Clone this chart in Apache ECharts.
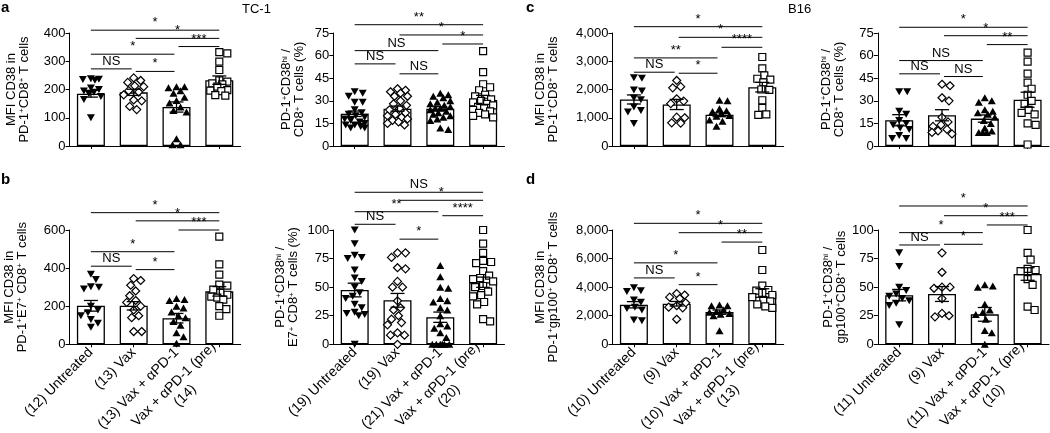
<!DOCTYPE html>
<html><head><meta charset="utf-8">
<script src="https://cdn.jsdelivr.net/npm/echarts@6/dist/echarts.min.js"></script>
<style>html,body{margin:0;padding:0;background:#fff}#c{width:1050px;height:433px}</style>
</head><body><div id="c"></div><script>
// ================= DATA =================
const groupNames = ['Untreated', 'Vax', 'Vax + αPD-1', 'Vax + αPD-1 (pre)'];
const bLeftLabels = ['(12) Untreated', '(13) Vax', '(13) Vax + αPD-1', 'Vax + αPD-1 (pre)\n(14)'];
const bRightLabels = ['(19) Untreated', '(19) Vax', '(21) Vax + αPD-1', 'Vax + αPD-1 (pre)\n(20)'];
const dLeftLabels = ['(10) Untreated', '(9) Vax', '(10) Vax + αPD-1', 'Vax + αPD-1 (pre)\n(13)'];
const dRightLabels = ['(11) Untreated', '(9) Vax', '(11) Vax + αPD-1', 'Vax + αPD-1 (pre)\n(10)'];

const mfiTicksA = [0, 100, 200, 300, 400];
const pctTicks75 = [0, 15, 30, 45, 60, 75];
const mfiTicksC = [0, 1000, 2000, 3000, 4000];
const mfiTicksB = [0, 200, 400, 600];
const pctTicks100 = [0, 25, 50, 75, 100];
const mfiTicksD = [0, 2000, 4000, 6000, 8000];

// a: TC-1, MFI CD38 in PD-1+CD8+ T cells
const aLeftMeans = [185, 190, 138, 233];
const aLeftSems = [12, 11, 18, 15];
const aLeftPoints = [
  [238, 236, 235, 233, 205, 200, 195, 190, 185, 175, 165, 100],
  [241, 232, 225, 213, 210, 196, 191, 181, 163, 160, 140, 129],
  [210, 210, 206, 196, 187, 173, 161, 152, 138, 126, 120, 26, 4, 4],
  [332, 328, 299, 269, 232, 228, 222, 218, 210, 198, 196, 194, 180, 178]
];
const aLeftSig = [[0, 3, 410, '*'], [1, 3, 381, '*'], [2, 3, 352, '***'], [0, 2, 325, '*'], [0, 1, 273, 'NS'], [1, 2, 264, '*']];

// a: TC-1, PD-1+CD38hi / CD8+ T cells (%)
const aRightMeans = [21.4, 24.8, 24.8, 30.6];
const aRightSems = [1.8, 1.7, 1.3, 3];
const aRightPoints = [
  [36, 35, 33, 29, 29, 24, 22, 21, 20, 19, 18, 17, 16, 15, 14, 14, 13, 12, 12],
  [38, 37, 36, 35, 33, 33, 30, 28, 27, 25, 24, 22, 21, 20, 19, 18, 17, 16, 15, 14],
  [35, 34, 33, 32, 30, 29, 28, 27, 26, 25, 25, 24, 23, 22, 21, 20, 19, 18, 17, 12, 11],
  [63, 49, 41, 39, 37, 34, 33, 31, 30, 29, 28, 27, 26, 25, 24, 23, 22, 21, 20, 19]
];
const aRightSig = [[0, 3, 80.5, '**'], [1, 3, 73.7, '*'], [2, 3, 67.7, '*'], [0, 2, 63.3, 'NS'], [0, 1, 54.5, 'NS'], [1, 2, 47.9, 'NS']];

// c: B16, MFI CD38 in PD-1+CD8+ T cells
const cLeftMeans = [1647, 1470, 1106, 2082];
const cLeftSems = [160, 180, 70, 170];
const cLeftPoints = [
  [2420, 2400, 1980, 1950, 1700, 1640, 1380, 1260, 1200, 800],
  [2320, 2100, 2060, 1670, 1590, 1500, 1020, 1000, 820, 810],
  [1620, 1600, 1320, 1250, 1220, 1150, 1080, 1050, 920, 880, 700],
  [3150, 2750, 2500, 2380, 2350, 2250, 2000, 1990, 1620, 1350, 1120, 1100]
];
const cLeftSig = [[0, 3, 4224, '*'], [1, 3, 3847, '*'], [2, 3, 3494, '****'], [0, 2, 3118, '**'], [0, 1, 2612, 'NS'], [1, 2, 2576, '*']];

// c: B16, PD-1+CD38hi / CD8+ T cells (%)
const cRightMeans = [17.1, 20.4, 18.2, 30.7];
const cRightSems = [3.7, 3.7, 2.4, 5];
const cRightPoints = [
  [36, 36, 23, 21, 17, 15, 14, 12, 11, 7, 5, 5],
  [41, 40, 32, 30, 19, 16, 14, 13, 11, 10, 9, 8],
  [32, 30, 29, 24, 23, 22, 21, 19, 17, 15, 12, 10, 9, 9, 9],
  [62, 56, 48, 42, 38, 34, 30, 28, 24, 22, 21, 15, 14, 1]
];
const cRightSig = [[0, 3, 78.8, '*'], [1, 3, 73.2, '*'], [2, 3, 67.3, '**'], [0, 2, 56.7, 'NS'], [0, 1, 47.9, 'NS'], [1, 2, 46.1, 'NS']];

// b: TC-1, MFI CD38 in PD-1+E7+ CD8+ T cells
const bLeftMeans = [202, 202, 137, 278];
const bLeftSems = [28, 22, 25, 25];
const bLeftPoints = [
  [368, 340, 302, 300, 290, 200, 180, 165, 150, 130, 110, 90],
  [345, 335, 310, 280, 255, 230, 220, 200, 180, 150, 140, 67, 67],
  [240, 235, 230, 200, 190, 170, 150, 140, 120, 100, 60, 40, 5],
  [565, 420, 366, 313, 308, 260, 287, 250, 270, 245, 235, 200, 185, 150]
];
const bLeftSig = [[0, 3, 691, '*'], [1, 3, 648, '*'], [2, 3, 600, '***'], [0, 2, 486, '*'], [0, 1, 410, 'NS'], [1, 2, 392, '*']];

// b: TC-1, PD-1+CD38hi / E7+ CD8+ T cells (%)
const bRightMeans = [47.5, 38.5, 23.7, 54.3];
const bRightSems = [6, 6, 4.5, 4.5];
const bRightPoints = [
  [100, 88, 78, 76, 75, 65, 58, 55, 50, 45, 42, 40, 35, 32, 28, 27, 26, 25, 0],
  [80, 80, 76, 67, 66, 55, 50, 50, 38, 32, 30, 25, 22, 19, 17, 10, 8, 8, 0],
  [69, 59, 50, 49, 40, 38, 37, 32, 30, 25, 18, 16, 14, 10, 6, 0, 0, 0, 0, 0, 0],
  [100, 88, 80, 73, 72, 71, 64, 60, 58, 57, 55, 51, 50, 46, 43, 42, 37, 35, 22, 20]
];
const bRightSig = [[0, 3, 133, 'NS'], [1, 3, 126, '*'], [0, 2, 116, '**'], [2, 3, 112.5, '****'], [0, 1, 105, 'NS'], [1, 2, 92, '*']];

// d: B16, MFI CD38 in PD-1+gp100+ CD8+ T cells
const dLeftMeans = [2768, 2838, 2252, 3589];
const dLeftSems = [220, 160, 150, 300];
const dLeftPoints = [
  [3950, 3750, 3700, 3100, 2950, 2600, 2500, 2400, 1700, 1650],
  [3550, 3450, 3300, 3200, 2900, 2700, 2600, 2550, 1750],
  [2750, 2700, 2700, 2400, 2300, 2250, 2150, 2100, 2000, 950],
  [6600, 5200, 4100, 3800, 3750, 3600, 3450, 3300, 3100, 3000, 2800, 2650, 2550]
];
const dLeftSig = [[0, 3, 8468, '*'], [1, 3, 7811, '*'], [2, 3, 7155, '**'], [0, 2, 5700, '*'], [0, 1, 4645, 'NS'], [1, 2, 4175, '*']];

// d: B16, PD-1+CD38hi / gp100+CD8+ T cells
const dRightMeans = [43, 44, 26.2, 61.5];
const dRightSems = [5, 6.5, 6, 5.5];
const dRightPoints = [
  [80, 68, 50, 47, 44, 42, 40, 38, 36, 34, 17],
  [80, 63, 50, 50, 49, 40, 27, 25, 24],
  [52, 51, 50, 35, 30, 28, 26, 22, 12, 10, 0],
  [100, 80, 74, 66, 65, 64, 57, 52, 33, 30]
];
const dRightSig = [[0, 3, 121, '*'], [1, 3, 112.5, '*'], [2, 3, 104.4, '***'], [0, 2, 97.7, '*'], [0, 1, 86.9, 'NS'], [1, 2, 87.5, '*']];

// ================= LAYOUT / STYLE =================
const FONT = 'Liberation Sans, Arial, Helvetica, sans-serif';
const COL_LEFT = [69.5, 333.3, 612.5, 877.8];
const COL_W = 171.2;
const ROW_TOP = [33, 230];
const ROW_H = [113, 114.3];
const XFS = 14; // category label font size

const SUP = {fontSize: 8, verticalAlign: 'top', lineHeight: 7, fontFamily: FONT, color: '#000'};
const NRM = {fontSize: 13, lineHeight: 13, fontFamily: FONT, color: '#000'};
const nameMfi = (mid) => '{n|MFI CD38 in}\n' + mid;
const namePct = (second) => '{n|PD-1}{s|+}{n|CD38}{s|hi}{n| /}\n' + second;

const panels = [
  {col: 0, row: 0, ticks: mfiTicksA, means: aLeftMeans, sems: aLeftSems, pts: aLeftPoints, sig: aLeftSig, labels: null,
   name: nameMfi('{n|PD-1}{s|+}{n|CD8}{s|+}{n| T cells}'), gap: 39},
  {col: 1, row: 0, ticks: pctTicks75, means: aRightMeans, sems: aRightSems, pts: aRightPoints, sig: aRightSig, labels: null,
   name: namePct('{n|CD8}{s|+}{n| T cells (%)}'), gap: 27},
  {col: 2, row: 0, ticks: mfiTicksC, means: cLeftMeans, sems: cLeftSems, pts: cLeftPoints, sig: cLeftSig, labels: null,
   name: nameMfi('{n|PD-1}{s|+}{n|CD8}{s|+}{n| T cells}'), gap: 53},
  {col: 3, row: 0, ticks: pctTicks75, means: cRightMeans, sems: cRightSems, pts: cRightPoints, sig: cRightSig, labels: null,
   name: namePct('{n|CD8}{s|+}{n| T cells (%)}'), gap: 32},
  {col: 0, row: 1, ticks: mfiTicksB, means: bLeftMeans, sems: bLeftSems, pts: bLeftPoints, sig: bLeftSig, labels: bLeftLabels,
   name: nameMfi('{n|PD-1}{s|+}{n|E7}{s|+}{n| CD8}{s|+}{n| T cells}'), gap: 41},
  {col: 1, row: 1, ticks: pctTicks100, means: bRightMeans, sems: bRightSems, pts: bRightPoints, sig: bRightSig, labels: bRightLabels,
   name: namePct('{n|E7}{s|+}{n| CD8}{s|+}{n| T cells (%)}'), gap: 33},
  {col: 2, row: 1, ticks: mfiTicksD, means: dLeftMeans, sems: dLeftSems, pts: dLeftPoints, sig: dLeftSig, labels: dLeftLabels,
   name: nameMfi('{n|PD-1}{s|+}{n|gp100}{s|+}{n| CD8}{s|+}{n| T cells}'), gap: 53},
  {col: 3, row: 1, ticks: pctTicks100, means: dRightMeans, sems: dRightSems, pts: dRightPoints, sig: dRightSig, labels: dRightLabels,
   name: namePct('{n|gp100}{s|+}{n|CD8}{s|+}{n| T cells}'), gap: 30}
];

const SYMBOLS = [
  {symbol: 'triangle', rotate: 180, size: [8, 7], fill: '#000'},
  {symbol: 'diamond', rotate: 0, size: [8, 8], fill: '#fff'},
  {symbol: 'triangle', rotate: 0, size: [8, 7], fill: '#000'},
  {symbol: 'rect', rotate: 0, size: [7, 7], fill: '#fff'}
];

// deterministic beeswarm layout (pixel offsets)
function swarm(vals, yMax, hPx, minDist, maxDx) {
  const ppu = hPx / yMax;
  const placed = [];
  const order = vals.map((v, i) => i).sort((a, b) => vals[b] - vals[a]);
  const dx = new Array(vals.length).fill(0);
  for (const i of order) {
    const y = vals[i] * ppu;
    let best = 0, bestScore = -1;
    for (let k = 0; k <= 2 * maxDx; k++) {
      const c = (k % 2 ? 1 : -1) * Math.ceil(k / 2);
      let md = Infinity;
      for (const p of placed) { const d = Math.hypot(p[0] - c, p[1] - y); if (d < md) md = d; }
      if (md >= minDist) { best = c; bestScore = md; break; }
      if (md > bestScore) { bestScore = md; best = c; }
    }
    dx[i] = best; placed.push([best, y]);
  }
  return dx;
}

// measure text so the second line of a two-line category label is centred under the first
const mctx = document.createElement('canvas').getContext('2d');
mctx.font = XFS + 'px ' + FONT;
function centrePad(label) {
  const parts = label.split('\n');
  if (parts.length < 2) return 0;
  return Math.max(0, (mctx.measureText(parts[0]).width - mctx.measureText(parts[1]).width) / 2);
}
const XLAB = {fontSize: XFS, fontFamily: FONT, color: '#000', lineHeight: 16};
function catFormatter(v) {
  const parts = String(v).split('\n');
  if (parts.length === 1) return '{a|' + v + '}';
  return '{a|' + parts[0] + '}\n{c|' + parts[1] + '}';
}

const grids = [], xAxes = [], yAxes = [], series = [];
panels.forEach((p, k) => {
  const yMax = p.ticks[p.ticks.length - 1];
  const interval = p.ticks[1] - p.ticks[0];
  grids.push({left: COL_LEFT[p.col], top: ROW_TOP[p.row], width: COL_W, height: ROW_H[p.row],
    containLabel: false, outerBoundsMode: 'none'});
  const pad = p.labels ? centrePad(p.labels[3]) : 0;
  xAxes.push({
    gridIndex: k, type: 'category', data: p.labels || groupNames, boundaryGap: true,
    axisLine: {show: true, lineStyle: {color: '#000', width: 1}},
    axisTick: {show: true, alignWithLabel: true, length: 3, lineStyle: {color: '#000', width: 1}},
    axisLabel: p.labels ? {show: true, interval: 0, rotate: 45, margin: 6, fontSize: XFS, fontFamily: FONT, color: '#000', lineHeight: 16,
      formatter: catFormatter, rich: {a: XLAB, c: Object.assign({padding: [0, pad, 0, 0]}, XLAB)}} : {show: false},
    splitLine: {show: false}
  });
  yAxes.push({
    gridIndex: k, type: 'value', min: 0, max: yMax, interval: interval,
    name: p.name, nameLocation: 'middle', nameRotate: 90, nameGap: p.gap, nameMoveOverlap: false,
    nameTextStyle: {rich: {n: NRM, s: SUP}, fontSize: 13, fontFamily: FONT, color: '#000', lineHeight: 13},
    axisLine: {show: true, lineStyle: {color: '#000', width: 1}},
    axisTick: {show: true, length: 4, lineStyle: {color: '#000', width: 1}},
    axisLabel: {fontSize: 13, fontFamily: FONT, color: '#000', margin: 4,
      formatter: v => v >= 1000 ? v.toLocaleString('en-US') : String(v)},
    splitLine: {show: false}
  });
  series.push({
    type: 'bar', xAxisIndex: k, yAxisIndex: k, data: p.means, barWidth: 28, z: 1,
    itemStyle: {color: '#fff', borderColor: '#000', borderWidth: 1.3}, silent: true
  });
  p.pts.forEach((vals, g) => {
    const s = SYMBOLS[g];
    const dx = swarm(vals, yMax, ROW_H[p.row], 7.2, 10);
    series.push({
      type: 'scatter', xAxisIndex: k, yAxisIndex: k, z: 3,
      symbol: s.symbol, symbolRotate: s.rotate, symbolSize: s.size,
      itemStyle: {color: s.fill, borderColor: '#000', borderWidth: s.fill === '#fff' ? 1.2 : 0, opacity: 1},
      data: vals.map((v, i) => ({value: [g, v], symbolOffset: [dx[i], 0]}))
    });
  });
  series.push({
    type: 'custom', xAxisIndex: k, yAxisIndex: k, z: 4, clip: false,
    data: p.means.map((m, g) => [g, m, p.sems[g]]),
    encode: {x: 0, y: 1},
    renderItem: (params, api) => {
      const g = api.value(0), m = api.value(1), s = api.value(2);
      const t = api.coord([g, m + s]), b = api.coord([g, Math.max(0, m - s)]);
      const w = 7, st = {stroke: '#000', lineWidth: 1.3};
      return {type: 'group', children: [
        {type: 'line', shape: {x1: t[0], y1: t[1], x2: b[0], y2: b[1]}, style: st},
        {type: 'line', shape: {x1: t[0] - w, y1: t[1], x2: t[0] + w, y2: t[1]}, style: st},
        {type: 'line', shape: {x1: b[0] - w, y1: b[1], x2: b[0] + w, y2: b[1]}, style: st}
      ]};
    }
  });
  const sig = p.sig;
  series.push({
    type: 'custom', xAxisIndex: k, yAxisIndex: k, z: 5, clip: false,
    data: sig.map(s => [s[0], s[1], s[2]]),
    encode: {x: [0, 1], y: 2},
    renderItem: (params, api) => {
      const i = api.value(0), j = api.value(1), y = api.value(2);
      const a = api.coord([i, y]), b = api.coord([j, y]);
      const x1 = a[0] + (i > 0 ? 2 : 0), x2 = b[0] - (j < 3 ? 2 : 0);
      return {type: 'group', children: [
        {type: 'line', shape: {x1: x1, y1: a[1], x2: x2, y2: a[1]}, style: {stroke: '#000', lineWidth: 1}},
        {type: 'text', style: {text: sig[params.dataIndex][3], x: (x1 + x2) / 2, y: a[1] - 1,
          align: 'center', verticalAlign: 'bottom', fontSize: 13, fontFamily: FONT, fill: '#000'}}
      ]};
    }
  });
});

const letterStyle = {fontSize: 15, fontWeight: 'bold', fontFamily: FONT, fill: '#000'};
const graphics = [
  {type: 'text', left: 1, top: 0, style: Object.assign({text: 'a'}, letterStyle)},
  {type: 'text', left: 1, top: 172, style: Object.assign({text: 'b'}, letterStyle)},
  {type: 'text', left: 526, top: 0, style: Object.assign({text: 'c'}, letterStyle)},
  {type: 'text', left: 526, top: 172, style: Object.assign({text: 'd'}, letterStyle)},
  {type: 'text', left: 242, top: 3, style: {text: 'TC-1', fontSize: 13, fontFamily: FONT, fill: '#000'}},
  {type: 'text', left: 788, top: 3, style: {text: 'B16', fontSize: 13, fontFamily: FONT, fill: '#000'}}
];

const chart = echarts.init(document.getElementById('c'), null, {renderer: 'canvas'});
chart.setOption({
  animation: false, backgroundColor: '#fff',
  grid: grids, xAxis: xAxes, yAxis: yAxes, series: series, graphic: graphics
});
</script></body></html>
